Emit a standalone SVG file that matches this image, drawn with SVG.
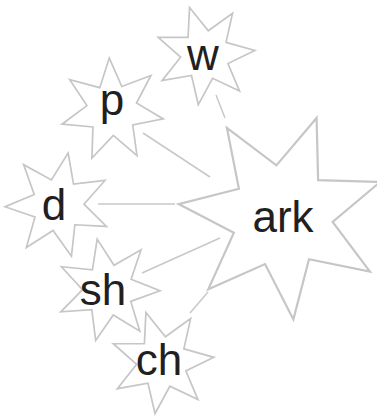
<svg xmlns="http://www.w3.org/2000/svg" xmlns:xlink="http://www.w3.org/1999/xlink" width="377" height="417" viewBox="0 0 377 417">
<style>
.star{fill:#fff;stroke:#c6c6c6;stroke-width:1.7;stroke-linejoin:miter;vector-effect:non-scaling-stroke}
.big{stroke-width:2.2}
.lbl{font-family:"Liberation Sans",Arial,sans-serif;font-size:44px;fill:#231f20;text-anchor:middle}
.conn line{stroke:#c8c8c8;stroke-width:1.5}
</style>
<defs>
<polygon id="s7" points="1,0 0.4415,0.2126 0.6235,0.7818 0.109,0.4777 -0.2225,0.9749 -0.3055,0.3831 -0.901,0.4339 -0.49,0 -0.901,-0.4339 -0.3055,-0.3831 -0.2225,-0.9749 0.109,-0.4777 0.6235,-0.7818 0.4415,-0.2126"/>
</defs>
<rect width="377" height="417" fill="#fff"/>
<g id="connectors" class="conn">
<line x1="216" y1="95" x2="225" y2="118"/>
<line x1="143" y1="133" x2="210" y2="177"/>
<line x1="98" y1="204" x2="175" y2="204"/>
<line x1="142" y1="273" x2="220" y2="238"/>
<line x1="208" y1="292" x2="190" y2="313"/>
</g>
<g id="node-ark">
<polygon class="star big" transform="translate(282,216) rotate(-122) scale(104)" points="1,0 0.4415,0.2126 0.6235,0.7818 0.109,0.4777 -0.2225,0.9749 -0.3055,0.3831 -0.901,0.4339 -0.49,0 -0.901,-0.4339 -0.3055,-0.3831 -0.2225,-0.9749 0.109,-0.4777 0.6235,-0.7818 0.4415,-0.2126"/>
<text class="lbl" x="283" y="232">ark</text>
</g>
<g id="node-w">
<polygon class="star" transform="translate(205,55) rotate(-108) scale(50)" points="1,0 0.4415,0.2126 0.6235,0.7818 0.109,0.4777 -0.2225,0.9749 -0.3055,0.3831 -0.901,0.4339 -0.49,0 -0.901,-0.4339 -0.3055,-0.3831 -0.2225,-0.9749 0.109,-0.4777 0.6235,-0.7818 0.4415,-0.2126"/>
<text class="lbl" x="203" y="70">w</text>
</g>
<g id="node-p">
<polygon class="star" transform="translate(112,110) rotate(-93) scale(52)" points="1,0 0.4415,0.2126 0.6235,0.7818 0.109,0.4777 -0.2225,0.9749 -0.3055,0.3831 -0.901,0.4339 -0.49,0 -0.901,-0.4339 -0.3055,-0.3831 -0.2225,-0.9749 0.109,-0.4777 0.6235,-0.7818 0.4415,-0.2126"/>
<text class="lbl" x="112" y="115">p</text>
</g>
<g id="node-d">
<polygon class="star" transform="translate(58,205) rotate(-79) scale(53)" points="1,0 0.4415,0.2126 0.6235,0.7818 0.109,0.4777 -0.2225,0.9749 -0.3055,0.3831 -0.901,0.4339 -0.49,0 -0.901,-0.4339 -0.3055,-0.3831 -0.2225,-0.9749 0.109,-0.4777 0.6235,-0.7818 0.4415,-0.2126"/>
<text class="lbl" x="54" y="220">d</text>
</g>
<g id="node-sh">
<polygon class="star" transform="translate(108,290) rotate(-102) scale(52)" points="1,0 0.4415,0.2126 0.6235,0.7818 0.109,0.4777 -0.2225,0.9749 -0.3055,0.3831 -0.901,0.4339 -0.49,0 -0.901,-0.4339 -0.3055,-0.3831 -0.2225,-0.9749 0.109,-0.4777 0.6235,-0.7818 0.4415,-0.2126"/>
<text class="lbl" x="103" y="305">sh</text>
</g>
<g id="node-ch">
<polygon class="star" transform="translate(162,362) rotate(-108) scale(52)" points="1,0 0.4415,0.2126 0.6235,0.7818 0.109,0.4777 -0.2225,0.9749 -0.3055,0.3831 -0.901,0.4339 -0.49,0 -0.901,-0.4339 -0.3055,-0.3831 -0.2225,-0.9749 0.109,-0.4777 0.6235,-0.7818 0.4415,-0.2126"/>
<text class="lbl" x="159" y="375">ch</text>
</g>
</svg>
